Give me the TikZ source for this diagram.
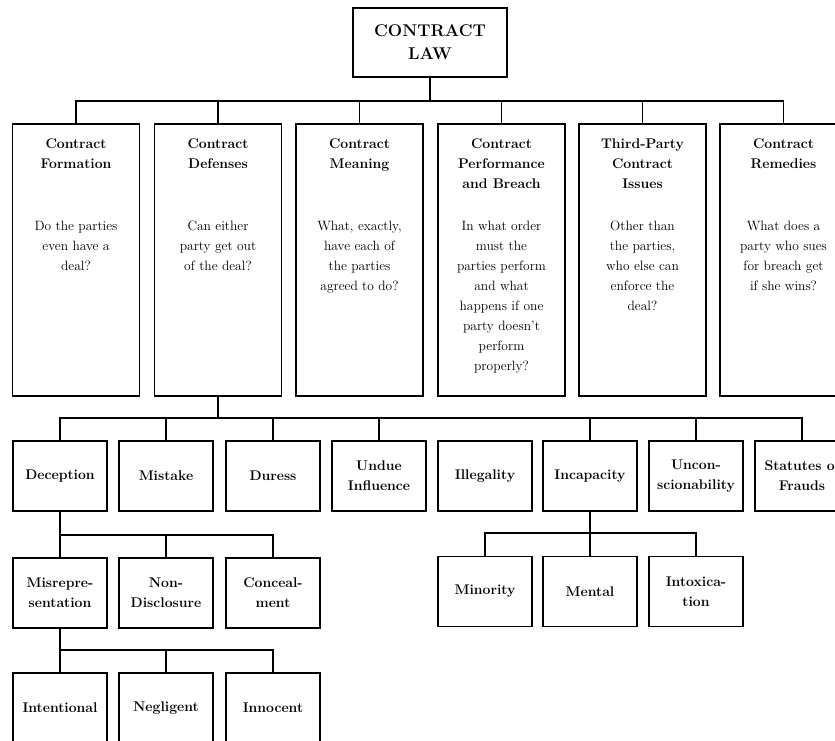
\documentclass[tikz,border=0pt]{standalone}
\begin{document}
\begin{tikzpicture}[x=1pt, y=-1pt, line width=1.1pt,
		every node/.style={inner sep=0pt},
		lawbox/.style={draw, minimum width=154pt, minimum height=69pt, align=center, font=\fontsize{17}{23}\selectfont\bfseries},
		areabox/.style={draw, minimum width=127pt, minimum height=272pt},
		areahead/.style={anchor=north, align=center, font=\fontsize{14}{20}\selectfont\bfseries},
		areaq/.style={anchor=north, align=center, font=\fontsize{13.5}{20}\selectfont},
		topicbox/.style={draw, minimum width=94pt, minimum height=70pt, align=center, font=\fontsize{14}{20}\selectfont\bfseries}]
	\useasboundingbox (0,0) rectangle (835,740);
	\clip (0,0) rectangle (835,740);

	\node[lawbox] (law) at (430,42.5) {CONTRACT\\LAW};

	\node[areabox] (form) at (76,260) {};
	\node[areabox] (def) at (218,260) {};
	\node[areabox] (mean) at (359.5,260) {};
	\node[areabox] (perf) at (501.5,260) {};
	\node[areabox] (third) at (642.5,260) {};
	\node[areabox] (rem) at (783.5,260) {};

	\node[areahead] (formT) at ([yshift=-15pt]form.north) {Contract\\Formation};
	\node[areahead] (defT) at ([yshift=-15pt]def.north) {Contract\\Defenses};
	\node[areahead] (meanT) at ([yshift=-15pt]mean.north) {Contract\\Meaning};
	\node[areahead] (perfT) at ([yshift=-15pt]perf.north) {Contract\\Performance\\and Breach};
	\node[areahead] (thirdT) at ([yshift=-15pt]third.north) {Third-Party\\Contract\\Issues};
	\node[areahead] (remT) at ([yshift=-15pt]rem.north) {Contract\\Remedies};

	\node[areaq] (formQ) at ([yshift=-97pt]form.north) {Do the parties\\even have a\\deal?};
	\node[areaq] (defQ) at ([yshift=-97pt]def.north) {Can either\\party get out\\of the deal?};
	\node[areaq] (meanQ) at ([yshift=-97pt]mean.north) {What, exactly,\\have each of\\the parties\\agreed to do?};
	\node[areaq] (perfQ) at ([yshift=-97pt]perf.north) {In what order\\must the\\parties perform\\and what\\happens if one\\party doesn't\\perform\\properly?};
	\node[areaq] (thirdQ) at ([yshift=-97pt]third.north) {Other than\\the parties,\\who else can\\enforce the\\deal?};
	\node[areaq] (remQ) at ([yshift=-97pt]rem.north) {What does a\\party who sues\\for breach get\\if she wins?};

	\coordinate (bus1) at (430,101);
	\draw (law.south) -- (bus1);
	\draw (form.north) |- (bus1) -| (rem.north);
	\foreach \n in {def,mean,perf,third}
		\draw (\n.north) -- (\n.north |- bus1);

	% defenses
	\node[topicbox] (decep) at (60,476) {Deception};
	\node[topicbox] (mistake) at (166,476) {Mistake};
	\node[topicbox] (duress) at (273,476) {Duress};
	\node[topicbox] (undue) at (379,476) {Undue\\Influence};
	\node[topicbox] (illeg) at (485,476) {Illegality};
	\node[topicbox] (incap) at (590,476) {Incapacity};
	\node[topicbox] (uncon) at (696,476) {Uncon-\\scionability};
	\node[topicbox] (stat) at (802,476) {Statutes of\\Frauds};

	\coordinate (bus2) at (218,418);
	\draw (def.south) -- (bus2);
	\draw (decep.north) |- (bus2) -| (stat.north);
	\foreach \n in {mistake,duress,undue,incap,uncon}
		\draw (\n.north) -- (\n.north |- bus2);

	\node[topicbox] (misrep) at (60,593) {Misrepre-\\sentation};
	\node[topicbox] (nondis) at (166,593) {Non-\\Disclosure};
	\node[topicbox] (conceal) at (273,593) {Conceal-\\ment};

	\coordinate (bus3) at (60,535);
	\draw (decep.south) -- (misrep.north);
	\draw (bus3) -| (conceal.north);
	\draw (nondis.north) -- (nondis.north |- bus3);

	\node[topicbox] (minor) at (485,591.5) {Minority};
	\node[topicbox] (mental) at (590,591.5) {Mental};
	\node[topicbox] (intox) at (696,591.5) {Intoxica-\\tion};

	\coordinate (bus4) at (590,533);
	\draw (incap.south) -- (mental.north);
	\draw (minor.north) |- (bus4) -| (intox.north);

	\node[topicbox] (intent) at (60,708) {Intentional};
	\node[topicbox] (neglig) at (166,708) {Negligent};
	\node[topicbox] (innoc) at (273,708) {Innocent};

	\coordinate (bus5) at (60,650);
	\draw (misrep.south) -- (intent.north);
	\draw (bus5) -| (innoc.north);
	\draw (neglig.north) -- (neglig.north |- bus5);
\end{tikzpicture}
\end{document}
